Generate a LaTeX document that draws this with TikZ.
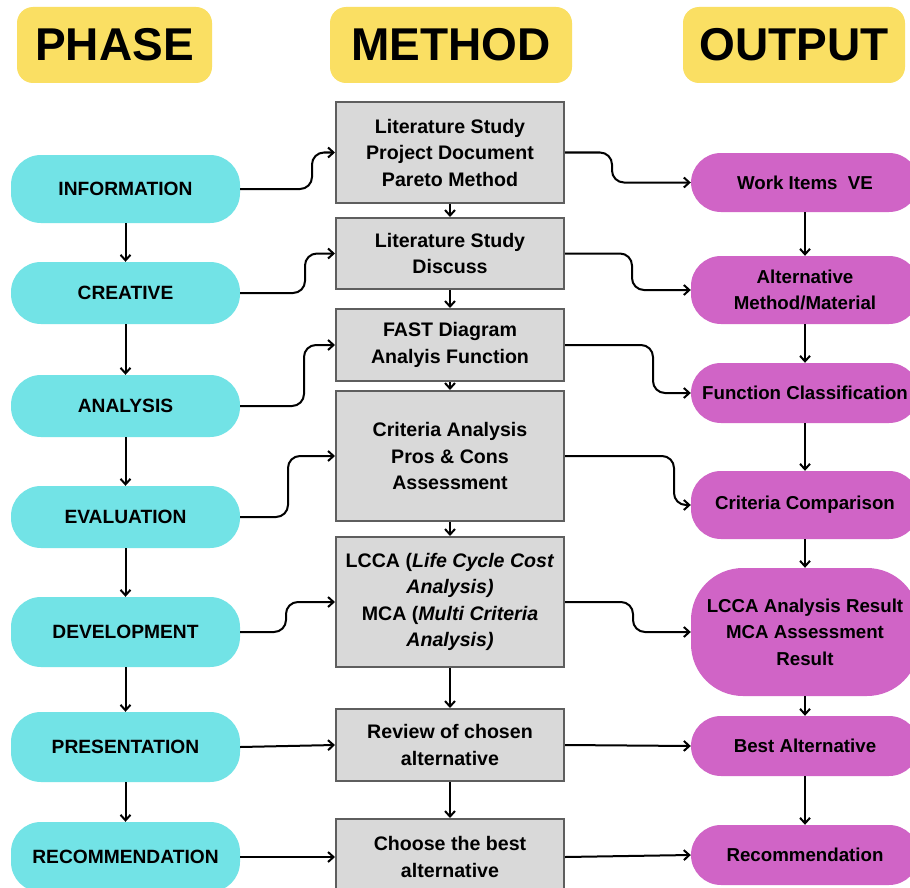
\documentclass[tikz,border=0pt]{standalone}
\usepackage{fontspec}
\setmainfont{Liberation Sans}
\usetikzlibrary{arrows.meta,calc}
\definecolor{hdr}{HTML}{FADF63}
\definecolor{phc}{HTML}{72E3E6}
\definecolor{outc}{HTML}{D064C6}
\definecolor{boxg}{HTML}{D9D9D9}
\definecolor{boxb}{HTML}{5E5E5E}
\begin{document}
\begin{tikzpicture}[x=1pt,y=-1pt,
 header/.style={fill=hdr, rounded corners=16pt, minimum height=76pt, inner sep=0pt,
   font=\fontsize{46}{46}\selectfont\bfseries},
 phasebox/.style={fill=phc, rounded corners=30pt, minimum width=229pt, inner sep=0pt,
   align=center, font=\fontsize{19.2}{22}\selectfont\bfseries},
 methodbox/.style={fill=boxg, draw=boxb, line width=2pt, minimum width=228pt, inner sep=0pt,
   align=center, font=\fontsize{19.6}{26.5}\selectfont\bfseries},
 outbox/.style={fill=outc, rounded corners=30pt, minimum width=228pt, inner sep=0pt,
   align=center, font=\fontsize{18.7}{26.5}\selectfont\bfseries},
 link/.style={draw=black, line width=2pt, -{Straight Barb[length=5.5pt,width=10pt]}, rounded corners=12pt},
 vlink/.style={draw=black, line width=2pt, -{Straight Barb[length=5.5pt,width=10pt]}}
]
\useasboundingbox (0,0) rectangle (910,888);
\fill[white] (0,0) rectangle (910,888);

% headers
\node[header, minimum width=195pt] (hp) at (114.5,45) {PHASE};
\node[header, minimum width=242pt] (hm) at (451,45) {METHOD};
\node[header, minimum width=222pt] (ho) at (794,45) {OUTPUT};

% phases
\node[phasebox, minimum height=68pt] (p1) at (125.5,189) {INFORMATION};
\node[phasebox, minimum height=62pt] (p2) at (125.5,293) {CREATIVE};
\node[phasebox, minimum height=62pt] (p3) at (125.5,406) {ANALYSIS};
\node[phasebox, minimum height=62pt] (p4) at (125.5,517) {EVALUATION};
\node[phasebox, minimum height=70pt] (p5) at (125.5,632) {DEVELOPMENT};
\node[phasebox, minimum height=70pt] (p6) at (125.5,747) {PRESENTATION};
\node[phasebox, minimum height=70pt] (p7) at (125.5,857) {RECOMMENDATION};

% methods
\node[methodbox, minimum height=101pt] (m1) at (450,152.5) {Literature Study\\Project Document\\Pareto Method};
\node[methodbox, minimum height=71pt] (m2) at (450,253.5) {Literature Study\\Discuss};
\node[methodbox, minimum height=72pt] (m3) at (450,345) {FAST Diagram\\Analyis Function};
\node[methodbox, minimum height=130pt] (m4) at (450,456) {Criteria Analysis\\Pros \& Cons\\Assessment};
\node[methodbox, minimum height=130pt] (m5) at (450,602) {LCCA (\textit{Life Cycle Cost}\\\textit{Analysis)}\\MCA (\textit{Multi Criteria}\\\textit{Analysis)}};
\node[methodbox, minimum height=72pt] (m6) at (450,745) {Review of chosen\\alternative};
\node[methodbox, minimum height=76pt] (m7) at (450,857) {Choose the best\\alternative};

% outputs
\node[outbox, minimum height=59pt] (o1) at (805,182.5) {Work Items\ \ VE};
\node[outbox, minimum height=68pt] (o2) at (805,290) {Alternative\\Method/Material};
\node[outbox, minimum height=60pt] (o3) at (805,393) {Function Classification};
\node[outbox, minimum height=68pt] (o4) at (805,505) {Criteria Comparison};
\node[outbox, minimum height=128pt, rounded corners=52pt] (o5) at (805,632) {LCCA Analysis Result\\MCA Assessment\\Result};
\node[outbox, minimum height=60pt] (o6) at (805,746) {Best Alternative};
\node[outbox, minimum height=60pt] (o7) at (805,855) {Recommendation};

% vertical links
\foreach \i/\j in {1/2,2/3,3/4,4/5,5/6,6/7}{
  \draw[vlink] (p\i.south) -- (p\j.north);
  \draw[vlink] (m\i.south) -- (m\j.north);
  \draw[vlink] (o\i.south) -- (o\j.north);
}

% bend coordinates
\coordinate (L1) at (312,0);
\coordinate (L2) at (305,0);
\coordinate (L3) at (304,0);
\coordinate (L4) at (288,0);
\coordinate (L5) at (286,0);
\coordinate (R1) at (612,0);
\coordinate (R2) at (632,0);
\coordinate (R3) at (653,0);
\coordinate (R4) at (674,0);
\coordinate (R5) at (633,0);

% phase -> method
\draw[link] (p1.east) -- (p1.east -| L1) -- (m1.west -| L1) -- (m1.west);
\draw[link] (p2.east) -- (p2.east -| L2) -- (m2.west -| L2) -- (m2.west);
\draw[link] (p3.east) -- (p3.east -| L3) -- (m3.west -| L3) -- (m3.west);
\draw[link] (p4.east) -- (p4.east -| L4) -- (m4.west -| L4) -- (m4.west);
\draw[link] (p5.east) -- (p5.east -| L5) -- (m5.west -| L5) -- (m5.west);
\draw[link] (p6.east) -- (m6.west);
\draw[link] (p7.east) -- (m7.west);

% method -> output
\draw[link] (m1.east) -- (m1.east -| R1) -- (o1.west -| R1) -- (o1.west);
\draw[link] (m2.east) -- (m2.east -| R2) -- (o2.west -| R2) -- (o2.west);
\draw[link] (m3.east) -- (m3.east -| R3) -- (o3.west -| R3) -- (o3.west);
\draw[link] (m4.east) -- (m4.east -| R4) -- (o4.west -| R4) -- (o4.west);
\draw[link] (m5.east) -- (m5.east -| R5) -- (o5.west -| R5) -- (o5.west);
\draw[link] (m6.east) -- (o6.west);
\draw[link] (m7.east) -- (o7.west);
\end{tikzpicture}
\end{document}
